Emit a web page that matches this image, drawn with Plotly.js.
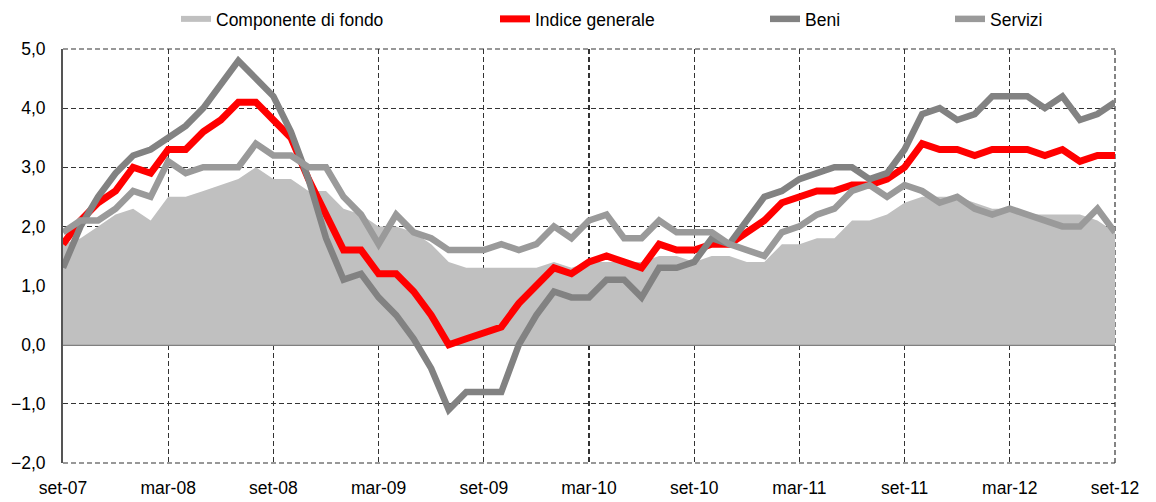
<!DOCTYPE html>
<html>
<head>
<meta charset="utf-8">
<script src="https://cdn.plot.ly/plotly-3.0.1.min.js"></script>
<style>
  body { margin: 0; background: #fff; }
  #chart { width: 1156px; height: 502px; }
</style>
</head>
<body>
<div id="chart"></div>
<script>
// months, set-07 .. set-12
var months = [
  'set-07','ott-07','nov-07','dic-07','gen-08','feb-08','mar-08','apr-08','mag-08','giu-08','lug-08','ago-08',
  'set-08','ott-08','nov-08','dic-08','gen-09','feb-09','mar-09','apr-09','mag-09','giu-09','lug-09','ago-09',
  'set-09','ott-09','nov-09','dic-09','gen-10','feb-10','mar-10','apr-10','mag-10','giu-10','lug-10','ago-10',
  'set-10','ott-10','nov-10','dic-10','gen-11','feb-11','mar-11','apr-11','mag-11','giu-11','lug-11','ago-11',
  'set-11','ott-11','nov-11','dic-11','gen-12','feb-12','mar-12','apr-12','mag-12','giu-12','lug-12','ago-12',
  'set-12'
];
var tickLabels = ['set-07','mar-08','set-08','mar-09','set-09','mar-10','set-10','mar-11','set-11','mar-12','set-12'];

var fondo = [
  1.7,1.8,2.0,2.2,2.3,2.1,2.5,2.5,2.6,2.7,2.8,3.0,
  2.8,2.8,2.6,2.6,2.3,2.2,2.0,2.0,1.9,1.7,1.4,1.3,
  1.3,1.3,1.3,1.3,1.4,1.3,1.4,1.4,1.4,1.4,1.5,1.5,
  1.4,1.5,1.5,1.4,1.4,1.7,1.7,1.8,1.8,2.1,2.1,2.2,
  2.4,2.5,2.5,2.5,2.4,2.3,2.3,2.2,2.2,2.2,2.2,2.1,
  1.9
];
var indice = [
  1.7,2.1,2.4,2.6,3.0,2.9,3.3,3.3,3.6,3.8,4.1,4.1,
  3.8,3.5,2.8,2.2,1.6,1.6,1.2,1.2,0.9,0.5,0.0,0.1,
  0.2,0.3,0.7,1.0,1.3,1.2,1.4,1.5,1.4,1.3,1.7,1.6,
  1.6,1.7,1.7,1.9,2.1,2.4,2.5,2.6,2.6,2.7,2.7,2.8,
  3.0,3.4,3.3,3.3,3.2,3.3,3.3,3.3,3.2,3.3,3.1,3.2,
  3.2
];
var beni = [
  1.3,2.0,2.5,2.9,3.2,3.3,3.5,3.7,4.0,4.4,4.8,4.5,
  4.2,3.6,2.8,1.8,1.1,1.2,0.8,0.5,0.1,-0.4,-1.1,-0.8,
  -0.8,-0.8,0.0,0.5,0.9,0.8,0.8,1.1,1.1,0.8,1.3,1.3,
  1.4,1.8,1.7,2.1,2.5,2.6,2.8,2.9,3.0,3.0,2.8,2.9,
  3.3,3.9,4.0,3.8,3.9,4.2,4.2,4.2,4.0,4.2,3.8,3.9,
  4.1
];
var servizi = [
  1.9,2.1,2.1,2.3,2.6,2.5,3.1,2.9,3.0,3.0,3.0,3.4,
  3.2,3.2,3.0,3.0,2.5,2.2,1.7,2.2,1.9,1.8,1.6,1.6,
  1.6,1.7,1.6,1.7,2.0,1.8,2.1,2.2,1.8,1.8,2.1,1.9,
  1.9,1.9,1.7,1.6,1.5,1.9,2.0,2.2,2.3,2.6,2.7,2.5,
  2.7,2.6,2.4,2.5,2.3,2.2,2.3,2.2,2.1,2.0,2.0,2.3,
  1.9
];

var textFont = {family: 'Liberation Sans, Arial, sans-serif', size: 17.5, color: '#000'};
var gridDash = '5px,3px';
var gridColor = '#333333';

var data = [
  {
    x: months, y: fondo, name: 'Componente di fondo', type: 'scatter', mode: 'none',
    fill: 'tozeroy', fillcolor: '#c0c0c0', legend: 'legend'
  },
  {
    x: months, y: indice, name: 'Indice generale', type: 'scatter', mode: 'lines',
    line: {color: '#ff0000', width: 7}, legend: 'legend2'
  },
  {
    x: months, y: beni, name: 'Beni', type: 'scatter', mode: 'lines',
    line: {color: '#828282', width: 6.5}, legend: 'legend3'
  },
  {
    x: months, y: servizi, name: 'Servizi', type: 'scatter', mode: 'lines',
    line: {color: '#9a9a9a', width: 6.5}, legend: 'legend4'
  }
];

// each legend entry placed on its own, like the original
// (container coords so the legends don't push the top margin)
function legendAt(px) {
  return {
    xref: 'container', yref: 'container',
    x: px / 1156, xanchor: 'left', y: 1 - 19 / 502, yanchor: 'middle',
    orientation: 'h', font: textFont, bgcolor: 'rgba(0,0,0,0)', borderwidth: 0
  };
}

// dashed frame on the top, bottom and right edges (gridlines at the range ends)
function edge(x0, y0, x1, y1) {
  return {
    type: 'line', xref: 'paper', yref: 'paper', x0: x0, y0: y0, x1: x1, y1: y1,
    line: {color: gridColor, width: 1.2, dash: gridDash}, layer: 'below'
  };
}

var layout = {
  width: 1156,
  height: 502,
  margin: {l: 63, r: 41, t: 49, b: 39},
  paper_bgcolor: '#fff',
  plot_bgcolor: '#fff',
  separators: ',.',
  font: textFont,
  showlegend: true,
  legend: legendAt(176),
  legend2: legendAt(495),
  legend3: legendAt(765),
  legend4: legendAt(950),
  shapes: [edge(0, 1, 1, 1), edge(0, 0, 1, 0), edge(1, 0, 1, 1)],
  xaxis: {
    type: 'category',
    range: [0, 60],
    tickvals: tickLabels,
    ticktext: tickLabels,
    tickangle: 0,
    ticks: '',
    ticklabelstandoff: 12,
    showgrid: true,
    gridcolor: gridColor,
    gridwidth: 1.2,
    griddash: gridDash,
    showline: false,
    zeroline: false,
    fixedrange: true
  },
  yaxis: {
    range: [-2, 5],
    dtick: 1,
    tick0: 0,
    tickformat: '.1f',
    ticks: '',
    ticklabelstandoff: 12,
    showgrid: true,
    gridcolor: gridColor,
    gridwidth: 1.2,
    griddash: gridDash,
    zeroline: true,
    zerolinecolor: '#808080',
    zerolinewidth: 2,
    showline: true,
    linecolor: '#555555',
    linewidth: 2,
    fixedrange: true
  }
};

Plotly.newPlot('chart', data, layout, {displayModeBar: false, staticPlot: true});
</script>
</body>
</html>
